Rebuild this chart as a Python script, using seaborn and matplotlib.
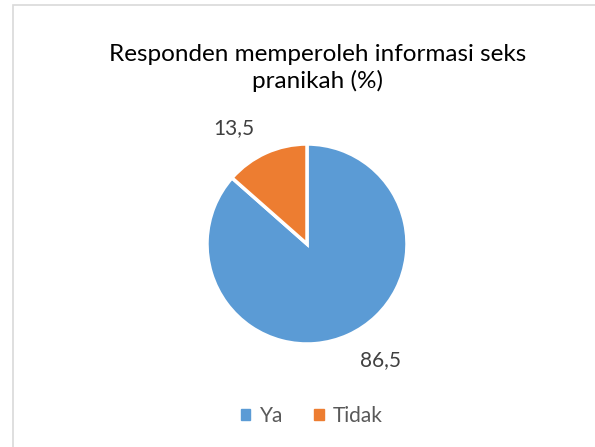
import matplotlib
matplotlib.use("Agg")
import numpy as np
import matplotlib.pyplot as plt
import matplotlib.patches as mpatches
import seaborn as sns

categories = ["Ya", "Tidak"]
values = [86.5, 13.5]
value_labels = ["86,5", "13,5"]
title = "Responden memperoleh informasi seks\npranikah (%)"

sns.set_theme(style="white")
plt.rcParams['font.family'] = ['Lato', 'DejaVu Sans']
colors = ["#5B9BD5", "#ED7D31"]

fig = plt.figure(figsize=(5.95, 4.47), dpi=100)
fig.patch.set_facecolor("white")

# outer chart frame (partially cropped at right/bottom)
frame = mpatches.Rectangle((13 / 595, -0.1), 1.2, 1 - 5 / 447 + 0.1,
                           transform=fig.transFigure, fill=False,
                           edgecolor="#D9D9D9", linewidth=1.2)
fig.patches.append(frame)

cx, cy, r = 307 / 595, 1 - 244 / 447, 100
w, h = 2 * r / 595, 2 * r / 447
ax = fig.add_axes([cx - w / 2, cy - h / 2, w, h])
wedges, _ = ax.pie(values, colors=colors,
                   startangle=90, counterclock=False,
                   wedgeprops=dict(edgecolor="white", linewidth=2.5))
ax.set_xlim(-1, 1)
ax.set_ylim(-1, 1)
ax.set_aspect("equal")
ax.axis("off")

# data labels placed outside each wedge (best-fit style)
label_shift_deg = 8
label_dist = 1.37
for wdg, lab in zip(wedges, value_labels):
    ang = np.deg2rad((wdg.theta1 + wdg.theta2) / 2 + label_shift_deg)
    ax.text(label_dist * np.cos(ang), label_dist * np.sin(ang), lab,
            ha="center", va="center", fontsize=15, color="#404040")

fig.text(318 / 595, 1 - 68 / 447, title, ha="center", va="center",
         fontsize=17.5, color="#000000", linespacing=1.3)

handles = [mpatches.Patch(color=c, label=l) for c, l in zip(colors, categories)]
fig.legend(handles=handles, loc="center", bbox_to_anchor=(312 / 595, 1 - 416 / 447),
           ncol=2, frameon=False, fontsize=15, handlelength=0.45, handleheight=0.45,
           handletextpad=0.45, columnspacing=1.5, labelcolor="#595959")

fig.savefig("out.png", dpi=100, facecolor="white")
